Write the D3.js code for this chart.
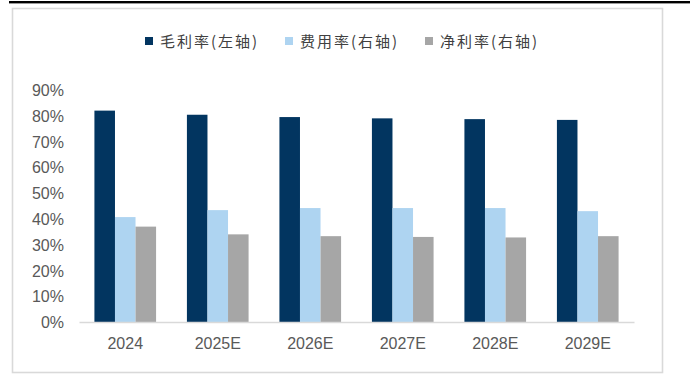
<!DOCTYPE html>
<html>
<head>
<meta charset="utf-8">
<script src="https://cdn.jsdelivr.net/npm/d3@7"></script>
<style>
  html, body { margin: 0; padding: 0; background: #fff; }
  svg { display: block; }
</style>
</head>
<body>
<svg id="chart" width="692" height="376"></svg>
<script>
// Years (E = estimate)
const categories = ["2024", "2025E", "2026E", "2027E", "2028E", "2029E"];
// Margin ratios
const grossMargin = [0.820, 0.804, 0.795, 0.790, 0.787, 0.784];
const expenseRatio = [0.407, 0.434, 0.442, 0.442, 0.442, 0.430];
const netMargin = [0.370, 0.340, 0.333, 0.330, 0.328, 0.333];
const seriesNames = ["毛利率(左轴)", "费用率(右轴)", "净利率(右轴)"];
const yTicks = [0, 0.1, 0.2, 0.3, 0.4, 0.5, 0.6, 0.7, 0.8, 0.9];

const colors = ["#023560", "#aed4f1", "#a6a6a6"];
const series = [grossMargin, expenseRatio, netMargin];

const svg = d3.select("#chart");

// top rule and frame
svg.append("rect").attr("x", 9).attr("y", 1).attr("width", 681).attr("height", 2.4).attr("fill", "#000");
svg.append("rect").attr("x", 12.5).attr("y", 8.5).attr("width", 650).attr("height", 364)
  .attr("fill", "none").attr("stroke", "#d9d9d9").attr("stroke-width", 1.6);

const x0 = d3.scaleBand().domain(categories).range([79, 634]).paddingInner(0).paddingOuter(0);
const x1 = d3.scaleBand().domain(d3.range(3)).range([0, x0.bandwidth()]).paddingInner(0).paddingOuter(0.75);
const y = d3.scaleLinear().domain([0, 0.9]).range([322, 90]);

// bars
series.forEach((vals, si) => {
  svg.append("g").selectAll("rect").data(vals).join("rect")
    .attr("x", (d, i) => x0(categories[i]) + x1(si))
    .attr("y", d => y(d))
    .attr("width", x1.bandwidth())
    .attr("height", d => y(0) - y(d))
    .attr("fill", colors[si]);
});

// y axis labels
const yAxis = d3.axisLeft(y).tickValues(yTicks).tickFormat(d3.format(".0%")).tickSize(0).tickPadding(0);
const gy = svg.append("g").attr("transform", "translate(64,0)").call(yAxis);
gy.select(".domain").remove();
gy.selectAll("text").attr("font-family", "Liberation Sans, Arial, sans-serif")
  .attr("font-size", 16).attr("fill", "#595959").attr("dy", "0.35em");

// x axis
const xAxis = d3.axisBottom(x0).tickSize(0).tickPadding(16);
const gx = svg.append("g").attr("transform", "translate(0,322)").call(xAxis);
gx.select(".domain").attr("stroke", "#d9d9d9").attr("stroke-width", 1.5);
gx.selectAll("text").attr("font-family", "Liberation Sans, Arial, sans-serif")
  .attr("font-size", 16).attr("fill", "#595959");

// legend
const legendX = [145, 285, 425];
const lg = svg.append("g");
seriesNames.forEach((name, i) => {
  lg.append("rect").attr("x", legendX[i]).attr("y", 37).attr("width", 8).attr("height", 8).attr("fill", colors[i]);
  lg.append("text").attr("x", legendX[i] + 15).attr("y", 47)
    .attr("font-family", "Noto Sans CJK SC, sans-serif").attr("font-size", 15)
    .attr("letter-spacing", 2)
    .attr("fill", "#404040").text(name);
});
</script>
</body>
</html>
